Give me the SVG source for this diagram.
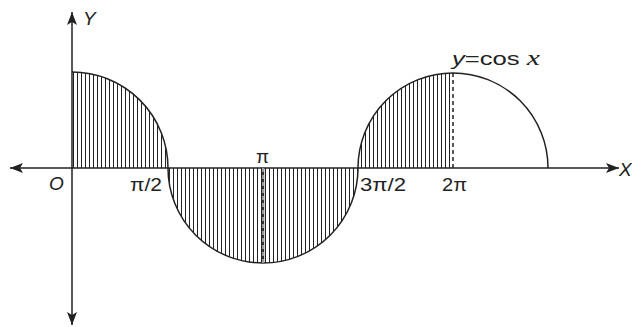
<svg xmlns="http://www.w3.org/2000/svg" width="632" height="327" viewBox="0 0 632 327">
<style>
.ax{stroke:#222;stroke-width:1.5;fill:none}
.crv{stroke:#222;stroke-width:1.5;fill:none}
.lbl{font-family:"Liberation Sans",Arial,sans-serif;font-size:19px;fill:#222}
.it{font-style:italic}
</style>
<defs>
<pattern id="hatch" patternUnits="userSpaceOnUse" width="4" height="10">
<line x1="1.5" y1="0" x2="1.5" y2="10" stroke="#222" stroke-width="1"/>
</pattern>
<marker id="ah" viewBox="0 0 13 10" refX="13" refY="5" markerWidth="13" markerHeight="10" markerUnits="userSpaceOnUse" orient="auto">
<path d="M0,0 L13,5 L0,10 L3,5 Z" fill="#222"/>
</marker>
</defs>
<rect width="632" height="327" fill="#fff"/>
<g id="hatching">
<path d="M72,168 L72,72 A96,96 0 0 1 168,168 Z" fill="url(#hatch)"/>
<path d="M168,168 A95,95 0 0 0 358,168 Z" fill="url(#hatch)"/>
<path d="M358,168 A95,95 0 0 1 453,73 L453,168 Z" fill="url(#hatch)"/>
</g>
<g id="connectors">
<line class="ax" x1="72" y1="168" x2="10" y2="168" marker-end="url(#ah)"/>
<line class="ax" x1="72" y1="168" x2="619" y2="168" marker-end="url(#ah)"/>
<line class="ax" x1="72" y1="168" x2="72" y2="12" marker-end="url(#ah)"/>
<line class="ax" x1="72" y1="168" x2="72" y2="325" marker-end="url(#ah)"/>
</g>
<g id="curve">
<path class="crv" d="M72,72 A96,96 0 0 1 168,168 A95,95 0 0 0 358,168 A95,95 0 0 1 548,168"/>
<line x1="263" y1="168" x2="263" y2="263" stroke="#333" stroke-width="2.4"/>
<line x1="263" y1="168" x2="263" y2="263" stroke="#fff" stroke-width="1" stroke-dasharray="4,3"/>
<line x1="453" y1="73" x2="453" y2="168" stroke="#222" stroke-width="1.5" stroke-dasharray="4,3"/>
</g>
<g id="labels">
<text class="lbl it" x="83" y="25">Y</text>
<text class="lbl it" x="619" y="176" font-size="17">X</text>
<text class="lbl it" x="49" y="190">O</text>
<text class="lbl" x="130" y="191" textLength="32" lengthAdjust="spacingAndGlyphs">π/2</text>
<text class="lbl" x="256" y="163">π</text>
<text class="lbl" x="360" y="191" textLength="46" lengthAdjust="spacingAndGlyphs">3π/2</text>
<text class="lbl" x="442" y="191" textLength="25" lengthAdjust="spacingAndGlyphs">2π</text>
<text class="lbl" x="452" y="65" font-size="20" textLength="88" lengthAdjust="spacingAndGlyphs"><tspan class="it">y</tspan>=cos <tspan font-family="'Liberation Serif',serif" font-style="italic" font-size="22">x</tspan></text>
</g>
</svg>
